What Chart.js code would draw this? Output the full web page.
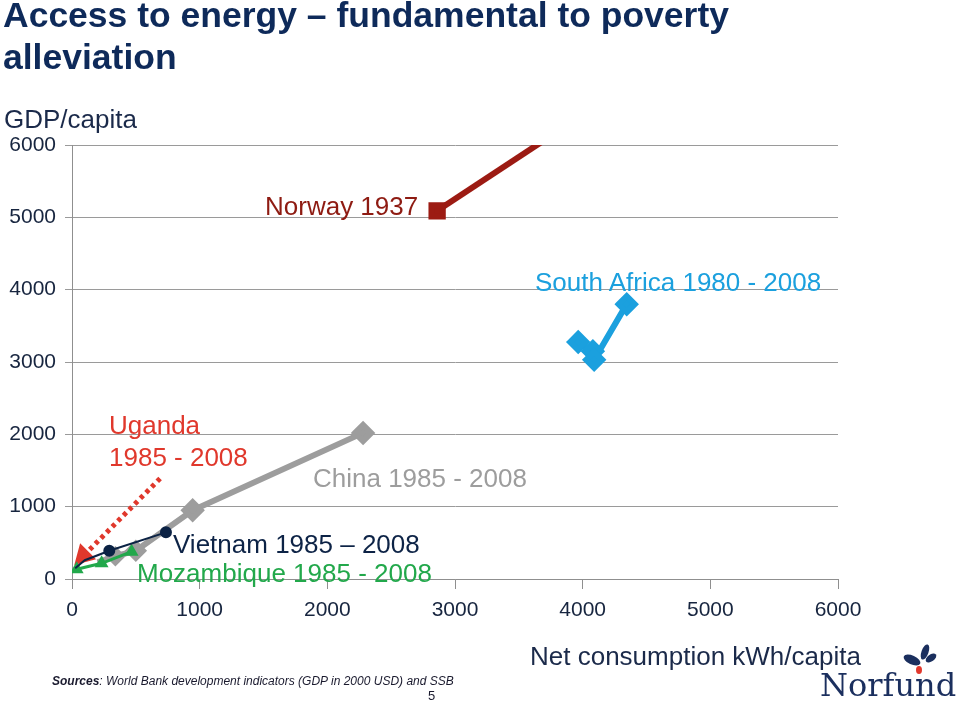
<!DOCTYPE html>
<html>
<head>
<meta charset="utf-8">
<script src="https://cdn.jsdelivr.net/npm/chart.js@4.4.1/dist/chart.umd.min.js"></script>
<style>
  body { margin: 0; background: #fff; font-family: "Liberation Sans", Arial, sans-serif; }
  #wrap { position: relative; width: 960px; height: 701px; overflow: hidden; }
  #myChart { position: absolute; left: 0; top: 0; }
  .lbl { position: absolute; white-space: nowrap; font-size: 26px; line-height: 26px; }
  .title { position: absolute; left: 3px; white-space: nowrap; font-weight: bold; font-size: 35.5px; line-height: 42px; color: #0e2a5a; }
  .src { position: absolute; left: 52px; top: 674px; font-size: 12px; font-style: italic; color: #1a1a2e; white-space: nowrap; }
  .pg { position: absolute; left: 428px; top: 688px; font-size: 13px; color: #1a1a2e; }
  .logo { position: absolute; left: 820px; top: 668px; font-family: "DejaVu Serif", serif; font-size: 32px; line-height: 34px; color: #1b2f5e; }
</style>
</head>
<body>
<div id="wrap">
  <canvas id="myChart" width="960" height="701"></canvas>

  <div class="title" style="top:-6px">Access to energy – fundamental to poverty</div>
  <div class="title" style="top:36px">alleviation</div>

  <div class="lbl" style="left:4px; top:106px; color:#1b2a4a">GDP/capita</div>
  <div class="lbl" style="left:530px; top:643px; color:#1b2a4a">Net consumption kWh/capita</div>

  <div class="lbl" style="left:265px; top:193px; color:#8e1b12">Norway 1937</div>
  <div class="lbl" style="left:535px; top:269px; color:#1ba0de">South Africa 1980 - 2008</div>
  <div class="lbl" style="left:109px; top:412px; color:#e0382c">Uganda</div>
  <div class="lbl" style="left:109px; top:444px; color:#e0382c">1985 - 2008</div>
  <div class="lbl" style="left:313px; top:465px; color:#9d9d9d">China 1985 - 2008</div>
  <div class="lbl" style="left:173px; top:531px; color:#0d2346">Vietnam 1985 – 2008</div>
  <div class="lbl" style="left:137px; top:560px; color:#22a84b">Mozambique 1985 - 2008</div>

  <div class="src"><b>Sources</b>: World Bank development indicators (GDP in 2000 USD) and SSB</div>
  <div class="pg">5</div>

  <svg style="position:absolute; left:900px; top:640px" width="40" height="36">
    <ellipse cx="12" cy="20" rx="9" ry="4.5" fill="#1b2f5e" transform="rotate(25 12 20)"/>
    <ellipse cx="25" cy="12" rx="3.5" ry="8" fill="#1b2f5e" transform="rotate(20 25 12)"/>
    <ellipse cx="31" cy="18" rx="6" ry="3.5" fill="#1b2f5e" transform="rotate(-35 31 18)"/>
    <ellipse cx="19" cy="30" rx="3" ry="4" fill="#e2382c"/>
  </svg>
  <div class="logo">Norfund</div>
</div>

<script>
    // Datos: consumo (kWh/cápita) y PIB/cápita
    const norwayKwh = [2860, 3900];
    const norwayGdp = [5090, 6300];

    const southAfricaKwh = [3965, 4080, 4090, 4345];
    const southAfricaGdp = [3275, 3150, 3030, 3800];

    const chinaKwh = [200, 340, 500, 945, 2280];
    const chinaGdp = [230, 315, 390, 950, 2020];

    const vietnamKwh = [25, 100, 292, 736];
    const vietnamGdp = [150, 260, 391, 645];

    const mozambiqueKwh = [37, 232, 467];
    const mozambiqueGdp = [134, 217, 378];

    // Flecha de Uganda (inicio en la etiqueta, fin en los datos)
    const ugandaArrowKwh = [690, 90];
    const ugandaArrowGdp = [1390, 320];

    const axisTicks = [0, 1000, 2000, 3000, 4000, 5000, 6000];

    const toPoints = (xs, ys) => xs.map((x, i) => ({ x: x, y: ys[i] }));

    const ctx = document.getElementById('myChart').getContext('2d');
    const tickFont = { family: '"Liberation Sans", Arial, sans-serif', size: 21 };

    const myChart = new Chart(ctx, {
        type: 'line',
        data: {
            datasets: [
                {
                    label: 'Vietnam',
                    data: toPoints(vietnamKwh, vietnamGdp),
                    borderColor: '#0b2244',
                    backgroundColor: '#0b2244',
                    borderWidth: 2,
                    pointStyle: 'circle',
                    pointRadius: [0, 0, 5, 5]
                },
                {
                    label: 'Mozambique',
                    data: toPoints(mozambiqueKwh, mozambiqueGdp),
                    borderColor: '#22a84b',
                    backgroundColor: '#22a84b',
                    borderWidth: 3,
                    pointStyle: 'triangle',
                    pointRadius: 5
                },
                {
                    label: 'Uganda',
                    data: toPoints(ugandaArrowKwh, ugandaArrowGdp),
                    borderColor: '#e0382c',
                    backgroundColor: '#e0382c',
                    borderWidth: 5,
                    borderDash: [4, 4],
                    pointStyle: 'triangle',
                    pointRadius: [0, 8],
                    pointRotation: 225
                },
                {
                    label: 'China',
                    data: toPoints(chinaKwh, chinaGdp),
                    borderColor: '#9d9d9d',
                    backgroundColor: '#9d9d9d',
                    borderWidth: 6,
                    pointStyle: 'rectRot',
                    pointRadius: [0, 6, 7, 8, 8]
                },
                {
                    label: 'South Africa',
                    data: toPoints(southAfricaKwh, southAfricaGdp),
                    borderColor: '#1ba0de',
                    backgroundColor: '#1ba0de',
                    borderWidth: 6,
                    pointStyle: 'rectRot',
                    pointRadius: 8
                },
                {
                    label: 'Norway',
                    data: toPoints(norwayKwh, norwayGdp),
                    borderColor: '#9c1b13',
                    backgroundColor: '#9c1b13',
                    borderWidth: 6,
                    pointStyle: 'rect',
                    pointRadius: [8, 0],
                    clip: 0
                }
            ]
        },
        options: {
            responsive: false,
            animation: false,
            layout: { padding: { left: 0, top: 145, right: 122, bottom: 72 } },
            plugins: {
                legend: { display: false },
                tooltip: { enabled: false }
            },
            elements: {
                line: { tension: 0, borderCapStyle: 'butt' },
                point: { borderWidth: 0, hoverRadius: 0 }
            },
            scales: {
                x: {
                    type: 'linear',
                    min: 0,
                    max: 6000,
                    afterBuildTicks: s => { s.ticks = axisTicks.map(v => ({ value: v })); },
                    afterFit: s => { s.height = 50; },
                    ticks: { font: tickFont, color: '#17253f', padding: 9, maxRotation: 0, callback: v => String(v) },
                    grid: { drawOnChartArea: false, tickLength: 10, color: '#8f8f8f' },
                    border: { color: '#8f8f8f' }
                },
                y: {
                    min: 0,
                    max: 6000,
                    afterBuildTicks: s => { s.ticks = axisTicks.map(v => ({ value: v })); },
                    afterFit: s => { s.width = 72; },
                    ticks: { font: tickFont, color: '#17253f', padding: 9, callback: v => String(v) },
                    grid: { color: '#9a9a9a', tickLength: 7 },
                    border: { color: '#8f8f8f' }
                }
            }
        }
    });
</script>
</body>
</html>
